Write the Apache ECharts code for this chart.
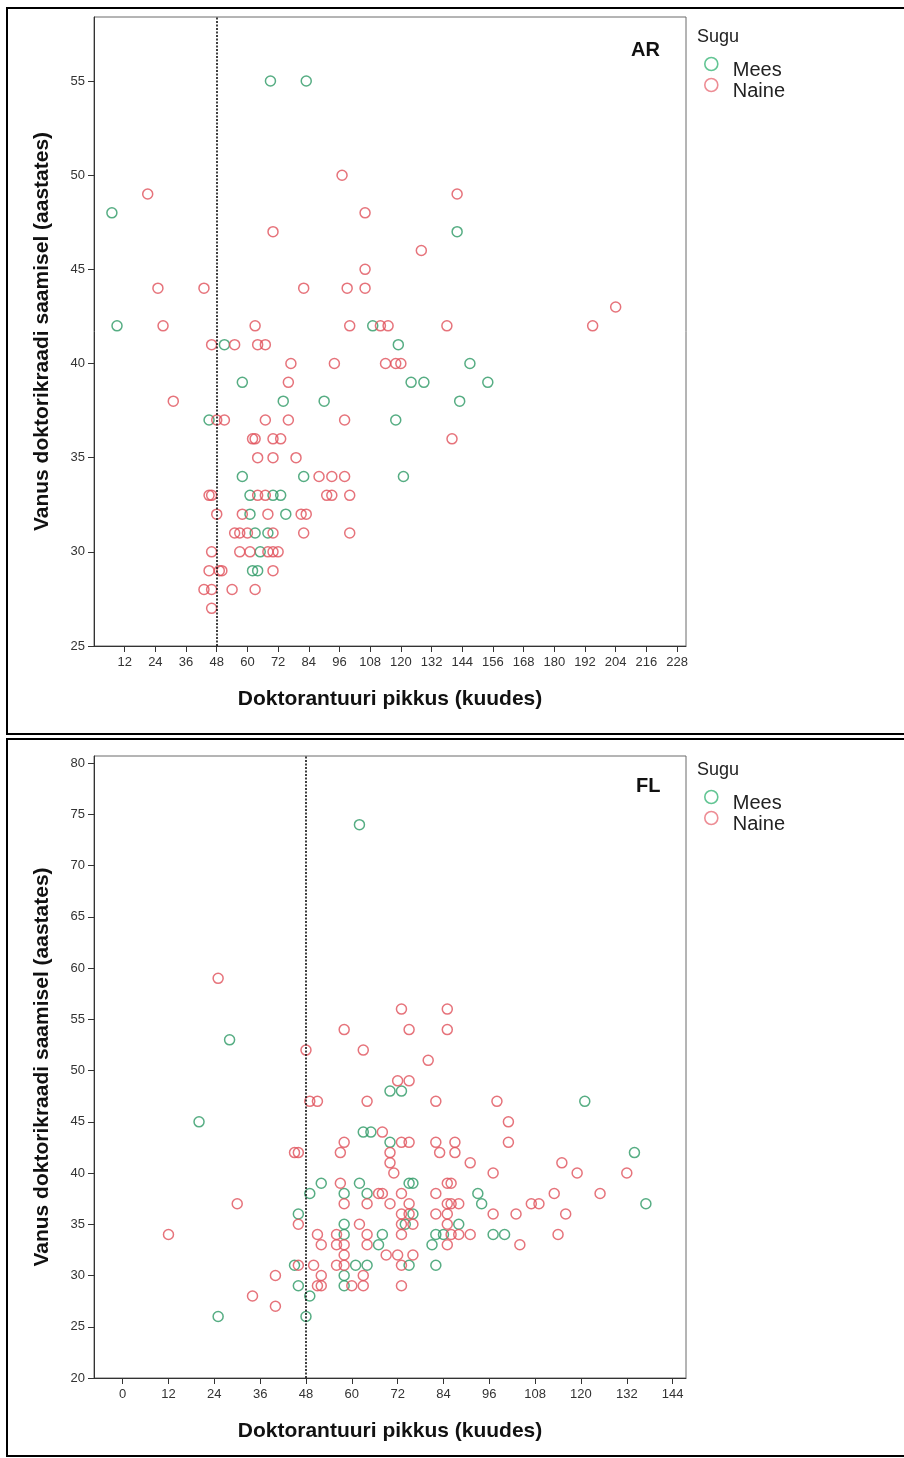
<!DOCTYPE html>
<html>
<head>
<meta charset="utf-8">
<script src="https://cdn.jsdelivr.net/npm/echarts@6/dist/echarts.min.js"></script>
<style>
  html, body { margin: 0; padding: 0; background: #fff; }
  #chart { width: 904px; height: 1458px; }
</style>
</head>
<body>
<div id="chart"></div>
<script>
// Tick labels of each panel
const arXTicks = [12, 24, 36, 48, 60, 72, 84, 96, 108, 120, 132, 144, 156, 168, 180, 192, 204, 216, 228];
const arYTicks = [25, 30, 35, 40, 45, 50, 55];
const flXTicks = [0, 12, 24, 36, 48, 60, 72, 84, 96, 108, 120, 132, 144];
const flYTicks = [20, 25, 30, 35, 40, 45, 50, 55, 60, 65, 70, 75, 80];

const groupNames = ['Mees', 'Naine'];
const panelNames = ['AR', 'FL'];
const cutoffMonths = 48;

// AR: [length of doctoral studies (months), age at degree (years)]
const arMees = [
  [69,55],[83,55],[7,48],[142,47],[9,42],[109,42],[51,41],[119,41],[147,40],
  [58,39],[124,39],[129,39],[154,39],[74,38],[90,38],[143,38],[45,37],[118,37],
  [58,34],[82,34],[121,34],[61,33],[70,33],[73,33],[61,32],[75,32],[63,31],
  [68,31],[65,30],[62,29],[64,29]
];
const arNaine = [
  [97,50],[21,49],[142,49],[106,48],[70,47],[128,46],[106,45],[25,44],[43,44],
  [82,44],[99,44],[106,44],[204,43],[27,42],[63,42],[100,42],[112,42],[115,42],
  [138,42],[195,42],[46,41],[55,41],[64,41],[67,41],[77,40],[94,40],[114,40],
  [118,40],[120,40],[76,39],[31,38],[48,37],[51,37],[67,37],[76,37],[98,37],
  [62,36],[63,36],[70,36],[73,36],[140,36],[64,35],[70,35],[79,35],[88,34],
  [93,34],[98,34],[45,33],[46,33],[64,33],[67,33],[91,33],[93,33],[100,33],
  [48,32],[58,32],[68,32],[81,32],[83,32],[55,31],[57,31],[60,31],[70,31],
  [82,31],[100,31],[46,30],[57,30],[61,30],[68,30],[70,30],[72,30],[45,29],
  [49,29],[50,29],[70,29],[43,28],[46,28],[54,28],[63,28],[46,27]
];

// FL
const flMees = [
  [62,74],[28,53],[20,45],[121,47],[70,48],[73,48],[63,44],[65,44],[70,43],
  [134,42],[52,39],[62,39],[75,39],[76,39],[49,38],[58,38],[64,38],[93,38],
  [94,37],[137,37],[46,36],[76,36],[58,35],[74,35],[88,35],[58,34],[68,34],
  [82,34],[84,34],[97,34],[100,34],[67,33],[81,33],[45,31],[61,31],[64,31],
  [75,31],[82,31],[58,30],[46,29],[58,29],[49,28],[25,26],[48,26]
];
const flNaine = [
  [25,59],[73,56],[85,56],[58,54],[75,54],[85,54],[48,52],[63,52],[80,51],
  [72,49],[75,49],[49,47],[51,47],[64,47],[82,47],[98,47],[101,45],[68,44],
  [58,43],[73,43],[75,43],[82,43],[87,43],[101,43],[45,42],[46,42],[57,42],
  [70,42],[83,42],[87,42],[70,41],[91,41],[115,41],[71,40],[97,40],[119,40],
  [132,40],[57,39],[85,39],[86,39],[67,38],[68,38],[73,38],[82,38],[113,38],
  [125,38],[30,37],[58,37],[64,37],[70,37],[75,37],[85,37],[86,37],[88,37],
  [107,37],[109,37],[73,36],[75,36],[82,36],[85,36],[97,36],[103,36],[116,36],
  [46,35],[62,35],[73,35],[76,35],[85,35],[12,34],[51,34],[56,34],[64,34],
  [73,34],[86,34],[88,34],[91,34],[114,34],[52,33],[56,33],[58,33],[64,33],
  [85,33],[104,33],[58,32],[69,32],[72,32],[76,32],[46,31],[50,31],[56,31],
  [58,31],[73,31],[40,30],[52,30],[63,30],[51,29],[52,29],[60,29],[63,29],
  [73,29],[34,28],[40,27]
];

const FONT = "'Liberation Sans', Arial, sans-serif";
const GREEN = '#2c9864';
const RED = '#e0505a';
const LEGEND_GREEN = '#3cb679';
const LEGEND_RED = '#e9707a';

const xTitle = 'Doktorantuuri pikkus (kuudes)';
const yTitle = 'Vanus doktorikraadi saamisel (aastates)';

function xAxisFor(gridIndex, min, max, ticks) {
  return {
    gridIndex, type: 'value', min, max,
    splitLine: { show: false },
    axisLine: { onZero: false, lineStyle: { color: '#333', width: 1 } },
    axisTick: { customValues: ticks, length: 6, lineStyle: { color: '#333' } },
    axisLabel: { customValues: ticks, margin: 10, fontSize: 13, color: '#333', fontFamily: FONT },
    name: xTitle, nameLocation: 'middle', nameGap: 43,
    nameTextStyle: { fontSize: 21, fontWeight: 'bold', color: '#111', fontFamily: FONT }
  };
}
function yAxisFor(gridIndex, min, max, ticks) {
  return {
    gridIndex, type: 'value', min, max,
    splitLine: { show: false },
    axisLine: { onZero: false, lineStyle: { color: '#333', width: 1 } },
    axisTick: { customValues: ticks, length: 6, lineStyle: { color: '#333' } },
    axisLabel: { customValues: ticks, margin: 9, fontSize: 13, color: '#333', fontFamily: FONT },
    name: yTitle, nameLocation: 'middle', nameGap: 41, nameRotate: 90,
    nameTextStyle: { fontSize: 21, fontWeight: 'bold', color: '#111', fontFamily: FONT }
  };
}
function pointSeries(name, data, color, axisIndex, withCutoff) {
  const s = {
    name, type: 'scatter', data,
    xAxisIndex: axisIndex, yAxisIndex: axisIndex,
    symbol: 'circle', symbolSize: 10,
    itemStyle: { color: 'rgba(255,255,255,0)', borderColor: color, borderWidth: 1.5 },
    emphasis: { disabled: true }
  };
  if (withCutoff) {
    s.markLine = {
      silent: true, symbol: 'none', label: { show: false },
      lineStyle: { color: '#111', type: [2, 1.5], width: 1.6 },
      data: [{ xAxis: cutoffMonths }]
    };
  }
  return s;
}
function legendFor(top) {
  return {
    orient: 'vertical', left: 704, top, padding: 0,
    itemWidth: 13, itemHeight: 13, itemGap: -11, selectedMode: false,
    data: [
      { name: groupNames[0], icon: 'circle', itemStyle: { color: 'rgba(255,255,255,0)', borderColor: LEGEND_GREEN, borderWidth: 1.6 } },
      { name: groupNames[1], icon: 'circle', itemStyle: { color: 'rgba(255,255,255,0)', borderColor: LEGEND_RED, borderWidth: 1.6 } }
    ],
    formatter: '{t|{name}}',
    textStyle: {
      fontFamily: FONT,
      rich: { t: { fontSize: 20, color: '#222', fontFamily: FONT, lineHeight: 14, padding: [12, 0, 0, 10] } }
    }
  };
}

const chart = echarts.init(document.getElementById('chart'), null, { renderer: 'canvas' });
chart.setOption({
  animation: false,
  backgroundColor: '#fff',
  textStyle: { fontFamily: FONT },
  title: [
    { text: panelNames[0], left: 631, top: 40, padding: 0, textStyle: { fontSize: 20, fontWeight: 'bold', color: '#111', fontFamily: FONT } },
    { text: panelNames[1], left: 636, top: 776, padding: 0, textStyle: { fontSize: 20, fontWeight: 'bold', color: '#111', fontFamily: FONT } },
    { text: 'Sugu', left: 697, top: 28, padding: 0, textStyle: { fontSize: 18, fontWeight: 'normal', color: '#222', fontFamily: FONT } },
    { text: 'Sugu', left: 697, top: 761, padding: 0, textStyle: { fontSize: 18, fontWeight: 'normal', color: '#222', fontFamily: FONT } }
  ],
  legend: [legendFor(48), legendFor(781)],
  grid: [
    { left: 94, top: 17, width: 592, height: 629, show: true, borderColor: '#6a6a6a', borderWidth: 1 },
    { left: 94, top: 756, width: 592, height: 622, show: true, borderColor: '#6a6a6a', borderWidth: 1 }
  ],
  xAxis: [xAxisFor(0, 0, 231.5, arXTicks), xAxisFor(1, -7.5, 147.5, flXTicks)],
  yAxis: [yAxisFor(0, 25, 58.4, arYTicks), yAxisFor(1, 20, 80.7, flYTicks)],
  series: [
    pointSeries(groupNames[0], arMees, GREEN, 0, true),
    pointSeries(groupNames[1], arNaine, RED, 0, false),
    pointSeries(groupNames[0], flMees, GREEN, 1, true),
    pointSeries(groupNames[1], flNaine, RED, 1, false)
  ],
  graphic: [
    { type: 'rect', shape: { x: 7, y: 8, width: 920, height: 726 }, style: { fill: 'none', stroke: '#000', lineWidth: 2 }, silent: true },
    { type: 'rect', shape: { x: 7, y: 739, width: 920, height: 717 }, style: { fill: 'none', stroke: '#000', lineWidth: 2 }, silent: true }
  ]
});
</script>
</body>
</html>
